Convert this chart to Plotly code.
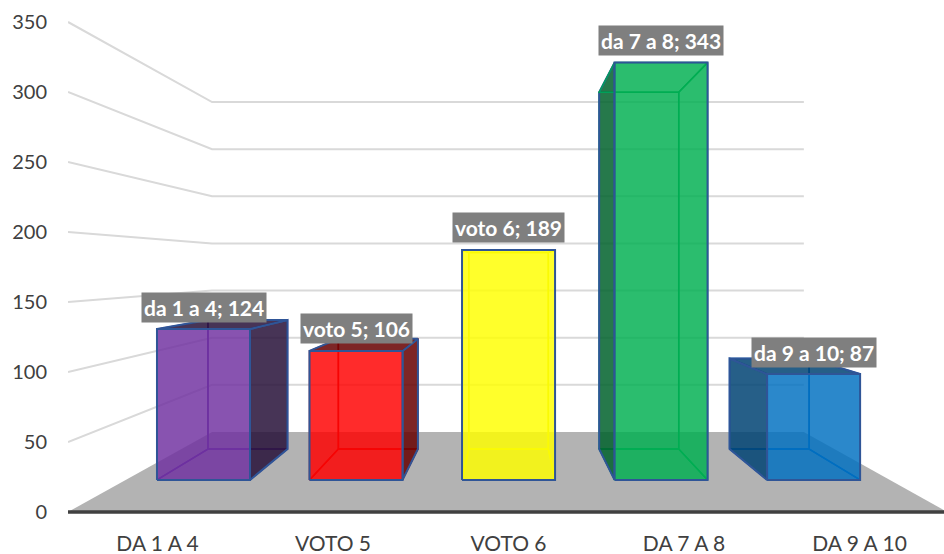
import plotly.graph_objects as go

categories = ["DA 1 A 4", "VOTO 5", "VOTO 6", "DA 7 A 8", "DA 9 A 10"]
label_names = ["da 1 a 4", "voto 5", "voto 6", "da 7 a 8", "da 9 a 10"]
values = [124, 106, 189, 343, 87]
y_ticks = [0, 50, 100, 150, 200, 250, 300, 350]

base_rgb = ["112,48,160", "255,0,0", "255,255,0", "0,176,80", "0,112,192"]
side_rgb = ["39,17,56", "102,0,0", "153,153,0", "0,97,44", "0,67,115"]
inner_rgb = ["96,50,160", "200,20,20", "225,225,20", "0,160,90", "0,100,190"]

OUTLINE = "#2f5597"
GRID = "#d9d9d9"
TEXT = "#404040"
FONT = "Lato"

# chart box seen in perspective: everything shrinks towards this point
VANISH_X = 2
VANISH_Y = 175
X_LEFT, X_RIGHT = -0.51, 4.5
HALF_WIDTH = 0.305
BACK = 0.673    # back wall scale
BAR_FRONT = 0.869
BAR_BACK = 0.743


def project(x, y, scale):
    return VANISH_X + (x - VANISH_X) * scale, VANISH_Y + (y - VANISH_Y) * scale


def poly(points, fill=None, line=None, width=1.5):
    xs = [p[0] for p in points] + [points[0][0]]
    ys = [p[1] for p in points] + [points[0][1]]
    return go.Scatter(
        x=xs, y=ys, mode="lines",
        fill="toself" if fill else None,
        fillcolor=fill,
        line=dict(color=line or "rgba(0,0,0,0)", width=width),
        hoverinfo="skip", showlegend=False,
    )


fig = go.Figure()

# walls
for tick in y_ticks[1:]:
    wx, wy = project(X_LEFT, tick, BACK)
    ex, ey = project(X_RIGHT, tick, BACK)
    fig.add_trace(go.Scatter(
        x=[X_LEFT, wx, ex], y=[tick, wy, ey], mode="lines",
        line=dict(color=GRID, width=2), hoverinfo="skip", showlegend=False,
    ))

# floor
fig.add_trace(poly([
    (X_LEFT, 0), (X_RIGHT, 0),
    project(X_RIGHT, 0, BACK), project(X_LEFT, 0, BACK),
], fill="#b3b3b3"))
fig.add_trace(go.Scatter(
    x=[X_LEFT, X_RIGHT], y=[0, 0], mode="lines",
    line=dict(color=TEXT, width=3.5), hoverinfo="skip", showlegend=False,
))

# bars, one box per category
for i, value in enumerate(values):
    left, right = i - HALF_WIDTH, i + HALF_WIDTH
    fl0, fl1 = project(left, 0, BAR_FRONT), project(left, value, BAR_FRONT)
    fr0, fr1 = project(right, 0, BAR_FRONT), project(right, value, BAR_FRONT)
    bl0, bl1 = project(left, 0, BAR_BACK), project(left, value, BAR_BACK)
    br0, br1 = project(right, 0, BAR_BACK), project(right, value, BAR_BACK)
    inner = "rgb(%s)" % inner_rgb[i]
    front_fill = "rgba(%s,0.83)" % base_rgb[i]
    side_fill = "rgba(%s,0.85)" % side_rgb[i]

    fig.add_trace(poly([bl0, br0, br1, bl1], line=inner))
    fig.add_trace(poly([fl0, fr0, br0, bl0], line=inner))
    if i < VANISH_X:
        fig.add_trace(poly([fl0, fl1, bl1, bl0], line=inner))
        outer = [fr0, fr1, br1, br0]
    elif i > VANISH_X:
        fig.add_trace(poly([fr0, fr1, br1, br0], line=inner))
        outer = [fl0, fl1, bl1, bl0]
    else:
        fig.add_trace(poly([fl0, fl1, bl1, bl0], line=inner))
        fig.add_trace(poly([fr0, fr1, br1, br0], line=inner))
        outer = None
    if outer:
        fig.add_trace(poly(outer, fill=side_fill, line=OUTLINE, width=2))
    top = [fl1, fr1, br1, bl1]
    if value < VANISH_Y:
        fig.add_trace(poly(top, fill=side_fill, line=OUTLINE, width=2))
    else:
        fig.add_trace(poly(top, line=inner))
    fig.add_trace(poly([fl0, fr0, fr1, fl1], fill=front_fill, line=OUTLINE, width=2))

    cx, cy = project(i, value, BAR_FRONT)
    fig.add_annotation(
        x=cx, y=cy, yshift=22, text="%s; %d" % (label_names[i], value),
        showarrow=False, xanchor="center", yanchor="middle",
        bgcolor="#7f7f7f", borderpad=2,
        font=dict(family=FONT, size=21, color="white", weight="bold"),
    )

fig.update_layout(
    width=944, height=554,
    margin=dict(l=68, r=0, t=0, b=38, autoexpand=False),
    paper_bgcolor="white", plot_bgcolor="white",
    showlegend=False,
    font=dict(family=FONT, color=TEXT),
    xaxis=dict(
        range=[-0.51, 4.481], tickmode="array",
        tickvals=list(range(len(categories))), ticktext=categories,
        showgrid=False, zeroline=False, showline=False, ticks="",
        tickfont=dict(size=21, color=TEXT), ticklabelstandoff=13,
    ),
    yaxis=dict(
        range=[-2.857, 365.71], tickmode="array", tickvals=y_ticks,
        showgrid=False, zeroline=False, showline=False, ticks="",
        tickfont=dict(size=20, color=TEXT), ticklabelstandoff=20,
    ),
)

# the page's default body margin would push the chart off the window
fig.write_html(
    "out.html",
    config={"displayModeBar": False},
    post_script="document.body.style.margin = '0';",
)
